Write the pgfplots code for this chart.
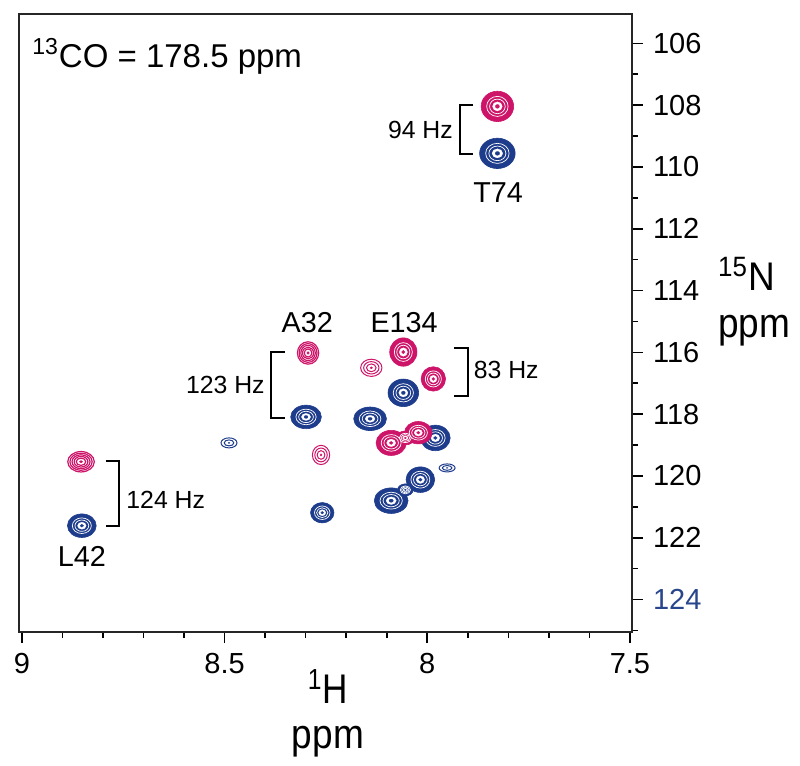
\documentclass[border=0pt]{standalone}
\usepackage{pgfplots}
\usepackage{pgfplotstable}
\usepackage{graphicx}
\usepackage{fontspec}
\setmainfont{Liberation Sans}
\pgfplotsset{compat=1.18}
\definecolor{pinkc}{RGB}{205,20,105}
\definecolor{bluec}{RGB}{30,60,140}
\definecolor{ticklab}{RGB}{40,70,140}

% peak tables: x (1H ppm), y (15N ppm), r (radius, pt), s (x/y aspect)
\pgfplotstableread{
x y r s
7.827 109.56 7.6 1.17
8.299 118.09 5.9 1.30
8.141 118.15 5.9 1.39
8.059 117.31 6.9 1.11
7.980 118.77 6.4 1.16
8.017 120.12 6.4 1.12
8.089 120.80 6.4 1.32
8.259 121.19 5.1 1.15
8.852 121.61 5.9 1.22
8.054 120.45 3.0 1.3
}\bluefilled
\pgfplotstableread{
x y r s
8.489 118.93 2.5 1.6
7.951 119.74 2.0 2.0
}\blueopen
\pgfplotstableread{
x y r s
7.827 108.04 7.6 1.07
8.059 115.99 7.1 0.96
7.985 116.86 6.1 1.0
8.089 118.93 6.3 1.2
8.022 118.60 5.6 1.23
8.054 118.77 3.5 1.3
}\pinkfilled
\pgfplotstableread{
x y r s
8.294 116.02 5.6 0.95
8.854 119.54 5.1 1.3
}\pinkmed
\pgfplotstableread{
x y r s
8.138 116.50 4.3 1.24
8.262 119.32 4.8 0.9
}\pinkopen

\pgfplotsset{
  pk/.style n args={4}{%
    only marks, scatter, point meta=y, mark=#3, line width=#4,
    scatter/use mapped color={draw=#1, fill=#1},
    visualization depends on={#2*\thisrow{r} \as \pkr},
    visualization depends on={\thisrow{s} \as \pks},
    scatter/@pre marker code/.append style={/tikz/xscale=\pks, /tikz/mark size=\pkr},
  },
}
\newcommand{\filledpeaks}[2]{%
  \addplot[pk={#2}{1.0}{*}{0.3pt}] table {#1};
  \addplot[pk={white}{0.66}{o}{0.35pt}] table {#1};
  \addplot[pk={white}{0.48}{o}{0.35pt}] table {#1};
  \addplot[pk={white}{0.30}{*}{0.1pt}] table {#1};
  \addplot[pk={#2}{0.13}{*}{0.1pt}] table {#1};
}
\newcommand{\ringpeaks}[4]{% table, color, list, width
  \pgfplotsinvokeforeach{#3}{\addplot[pk={#2}{##1}{o}{#4}] table {#1};}
  \addplot[pk={#2}{0.13}{*}{0.1pt}] table {#1};
}

\begin{document}
\begin{tikzpicture}
\begin{axis}[
  name=ax,
  scale only axis, width=306.5pt, height=309pt,
  xmin=7.495, xmax=9.007, x dir=reverse,
  ymin=105.05, ymax=125.05, y dir=reverse,
  axis line style={line width=0.7pt, black!85},
  xtick={7.5,8,8.5,9}, xticklabels={7.5,8,8.5,9},
  minor xtick={7.6,7.7,7.8,7.9,8.1,8.2,8.3,8.4,8.6,8.7,8.8,8.9},
  ytick={106,108,110,112,114,116,118,120,122,124},
  yticklabels={106,108,110,112,114,116,118,120,122,{\color{ticklab}124}},
  minor ytick={107,109,111,113,115,117,119,121,123,125},
  xtick pos=bottom, ytick pos=right, yticklabel pos=right,
  tick align=outside,
  major tick length=5.5pt, minor tick length=3pt,
  every tick/.style={black, line width=0.8pt},
  ticklabel style={font=\fontsize{14.5}{16}\selectfont},
  xticklabel style={yshift=-1.5pt},
  yticklabel style={xshift=1.5pt},
  clip=false,
]
\filledpeaks{\bluefilled}{bluec}
\ringpeaks{\blueopen}{bluec}{1.0,0.6}{0.5pt}
\filledpeaks{\pinkfilled}{pinkc}
\ringpeaks{\pinkmed}{pinkc}{1.0,0.84,0.68,0.52,0.36}{0.6pt}
\ringpeaks{\pinkopen}{pinkc}{1.0,0.72,0.45}{0.5pt}

% coupling brackets
\addplot[black, line width=1pt, mark=none] coordinates {(7.886,108.00) (7.919,108.00) (7.919,109.59) (7.886,109.59)};
\addplot[black, line width=1pt, mark=none] coordinates {(8.351,115.99) (8.385,115.99) (8.385,118.12) (8.351,118.12)};
\addplot[black, line width=1pt, mark=none] coordinates {(8.793,119.51) (8.760,119.51) (8.760,121.61) (8.793,121.61)};
\addplot[black, line width=1pt, mark=none] coordinates {(7.933,115.86) (7.899,115.86) (7.899,117.41) (7.933,117.41)};

\begin{scope}[every node/.style={font=\fontsize{12.4}{14}\selectfont, inner sep=0pt}]
\node[anchor=base east] at (axis cs:7.936,109.07) {94 Hz};
\node[anchor=base east] at (axis cs:8.400,117.34) {123 Hz};
\node[anchor=base west] at (axis cs:8.743,121.06) {124 Hz};
\node[anchor=base west] at (axis cs:7.886,116.86) {83 Hz};
\end{scope}
\begin{scope}[every node/.style={font=\fontsize{14.4}{17}\selectfont, anchor=base, inner sep=0pt}]
\node at (axis cs:7.825,111.14) {T74};
\node at (axis cs:8.296,115.37) {A32};
\node at (axis cs:8.057,115.37) {E134};
\node at (axis cs:8.852,122.94) {L42};
\end{scope}
\node[anchor=base west, inner sep=0pt, font=\fontsize{16.5}{19}\selectfont] at (axis description cs:0.021,0.914) {\textsuperscript{13}CO = 178.5 ppm};
\node[anchor=base west, inner sep=0pt, font=\fontsize{18.5}{21}\selectfont] at (axis description cs:1.140,0.553) {\scalebox{1}[1.08]{\textsuperscript{15}N}};
\node[anchor=base west, inner sep=0pt, font=\fontsize{18.5}{21}\selectfont] at (axis description cs:1.140,0.477) {\scalebox{1}[1.12]{ppm}};
\node[anchor=base, inner sep=0pt, font=\fontsize{18.5}{21}\selectfont] at (axis description cs:0.504,-0.115) {\scalebox{0.95}[1.12]{\textsuperscript{1}H}};
\node[anchor=base, inner sep=0pt, font=\fontsize{18.5}{21}\selectfont] at (axis description cs:0.504,-0.188) {\scalebox{1}[1.12]{ppm}};
\end{axis}
\pgfresetboundingbox
\path[use as bounding box] ([xshift=-9.5pt,yshift=-67pt]ax.south west) rectangle ([xshift=84pt,yshift=7pt]ax.north east);
\end{tikzpicture}
\end{document}
